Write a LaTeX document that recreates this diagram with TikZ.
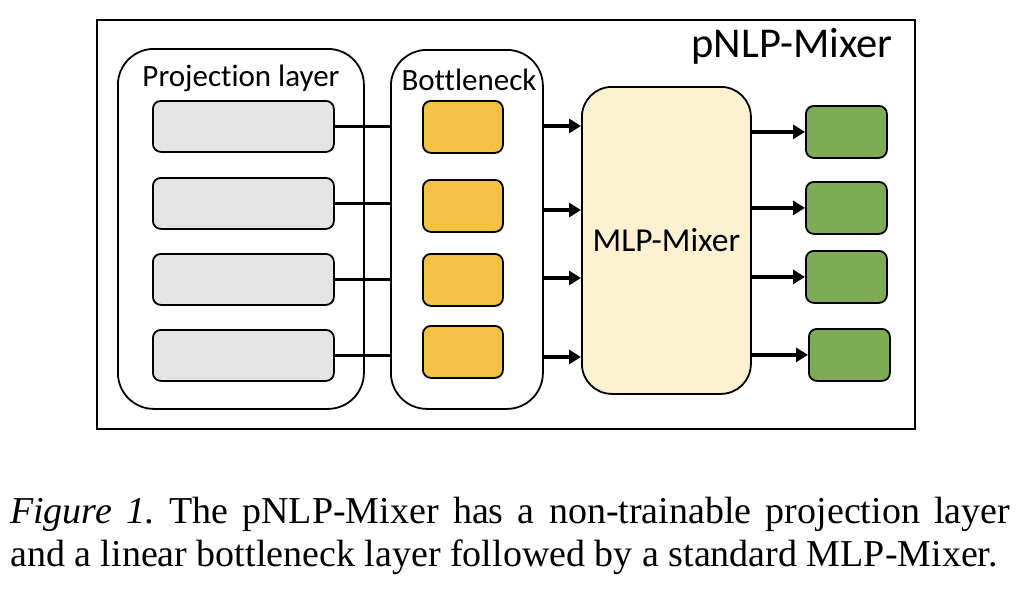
\documentclass[tikz,border=0pt]{standalone}
\usepackage{fontspec}
\setmainfont{Liberation Serif}
\newfontfamily\diagfont[Ligatures=NoCommon]{Carlito}
\usetikzlibrary{arrows.meta}
\definecolor{grayfill}{HTML}{E4E4E4}
\definecolor{yellowfill}{HTML}{F4C242}
\definecolor{greenfill}{HTML}{7EAB55}
\definecolor{mlpfill}{HTML}{FBF0D0}
\begin{document}
\begin{tikzpicture}[x=1pt,y=-1pt,
  box/.style={draw=black, line width=1.8pt, inner sep=0pt, anchor=north west},
  container/.style={box, rounded corners=36pt, fill=white},
  graybox/.style={box, rounded corners=8pt, fill=grayfill, minimum width=181pt, minimum height=51pt},
  yellowbox/.style={box, rounded corners=8pt, fill=yellowfill, minimum width=80pt, minimum height=52pt},
  greenbox/.style={box, rounded corners=8pt, fill=greenfill, minimum width=81pt, minimum height=52pt},
  link/.style={line width=3.8pt},
  arr/.style={line width=3.8pt, -{Triangle[length=12pt,width=14pt]}},
  lbl/.style={font=\diagfont\fontsize{31}{37}\selectfont, anchor=base, inner sep=0pt},
  captext/.style={font=\fontsize{38}{45}\selectfont, anchor=base west, inner sep=0pt}
]
\useasboundingbox (0,0) rectangle (1030,592);

\node[box, line width=2.2pt, minimum width=818pt, minimum height=409pt] (frame) at (96,19) {};
\node[lbl, font=\diagfont\fontsize{42.5}{50}\selectfont] (title) at (792,57) {pNLP-Mixer};

\node[container, minimum width=246pt, minimum height=360pt] (proj) at (117,48) {};
\node[container, minimum width=152pt, minimum height=359pt] (bott) at (390,49) {};
\node[lbl] (projlbl) at (241,86) {Projection layer};
\node[lbl] (bottlbl) at (469,90) {Bottleneck};

\node[graybox] (g1) at (152,100) {};
\node[graybox] (g2) at (152,177) {};
\node[graybox] (g3) at (152,253) {};
\node[graybox] (g4) at (152,329) {};

\node[yellowbox] (y1) at (422,100) {};
\node[yellowbox] (y2) at (422,179) {};
\node[yellowbox] (y3) at (422,253) {};
\node[yellowbox] (y4) at (422,325) {};

\node[box, rounded corners=30pt, fill=mlpfill, minimum width=169pt, minimum height=307pt,
  font=\diagfont\fontsize{33.5}{40}\selectfont] (mlp) at (581,86) {MLP-Mixer};

\node[greenbox] (o1) at (805,105) {};
\node[greenbox] (o2) at (805,181) {};
\node[greenbox] (o3) at (805,250) {};
\node[greenbox] (o4) at (808,328) {};

\foreach \i in {1,2,3,4} {
  \draw[link] (g\i.east) -- (g\i.east -| bott.west);
}
\coordinate (a1) at (0,126);
\coordinate (a2) at (0,210);
\coordinate (a3) at (0,278);
\coordinate (a4) at (0,357);
\foreach \i in {1,2,3,4} {
  \draw[arr] (bott.east |- a\i) -- (mlp.west |- a\i);
  \draw[arr] (mlp.east |- o\i.west) -- (o\i.west);
}

\node[captext] (cap1) at (10,523) {\makebox[1000pt][s]{\itshape Figure 1.\upshape\ The pNLP-Mixer has a non-trainable projection layer}};
\node[captext] (cap2) at (10,566) {and a linear bottleneck layer followed by a standard MLP-Mixer.};
\end{tikzpicture}
\end{document}
